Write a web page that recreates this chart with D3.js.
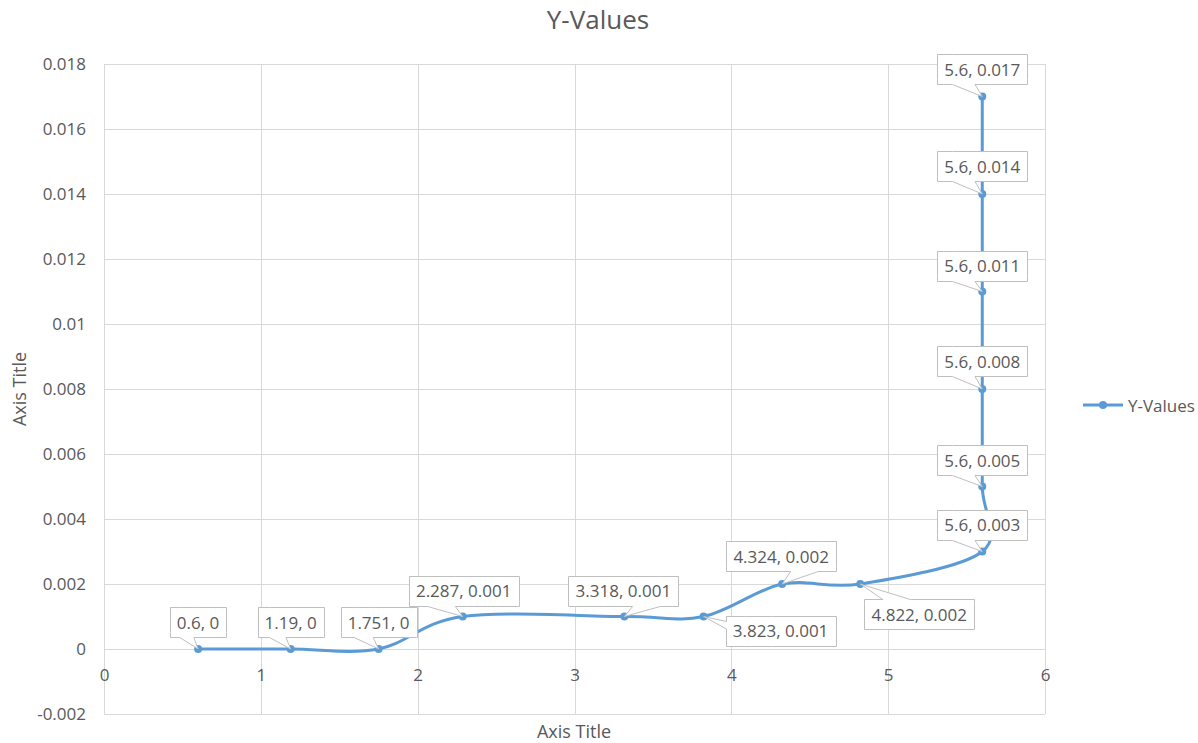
<!DOCTYPE html>
<html>
<head>
<meta charset="utf-8">
<script src="https://cdn.jsdelivr.net/npm/d3@7"></script>
<style>
  body { margin: 0; background: #fff; }
  text { font-family: "Open Sans", sans-serif; fill: #595959; }
</style>
</head>
<body>
<svg id="chart" width="1198" height="743"></svg>
<script>
// Series values
const xValues = [0.6, 1.19, 1.751, 2.287, 3.318, 3.823, 4.324, 4.822, 5.6, 5.6, 5.6, 5.6, 5.6, 5.6];
const yValues = [0, 0, 0, 0.001, 0.001, 0.001, 0.002, 0.002, 0.003, 0.005, 0.008, 0.011, 0.014, 0.017];

// Axis ticks
const xTicks = [0, 1, 2, 3, 4, 5, 6];
const xTickLabels = ["0", "1", "2", "3", "4", "5", "6"];
const yTicks = [-0.002, 0, 0.002, 0.004, 0.006, 0.008, 0.01, 0.012, 0.014, 0.016, 0.018];
const yTickLabels = ["-0.002", "0", "0.002", "0.004", "0.006", "0.008", "0.01", "0.012", "0.014", "0.016", "0.018"];

// Texts
const chartTitle = "Y-Values";
const seriesName = "Y-Values";
const xAxisTitle = "Axis Title";
const yAxisTitle = "Axis Title";

// Callout placement: centre of each label box relative to its point (px)
const calloutOffsets = [[0, -27], [0, -27], [0, -27], [1, -26], [-1, -26], [77, 14], [-1, -28],
                        [59, 30], [0, -27], [0, -26], [0, -28], [0, -26], [0, -28], [0, -27]];

const color = "#5b9bd5";
const gridColor = "#d9d9d9";

const svg = d3.select("#chart");
const plot = { left: 104, right: 1045, top: 64, bottom: 714 };

const x = d3.scaleLinear().domain([0, 6]).range([plot.left, plot.right]);
const y = d3.scaleLinear().domain([-0.002, 0.018]).range([plot.bottom, plot.top]);

// Gridlines
const grid = svg.append("g");
grid.selectAll("line.h").data(yTicks).join("line")
  .attr("x1", plot.left).attr("x2", plot.right)
  .attr("y1", d => Math.round(y(d)) + 0.5).attr("y2", d => Math.round(y(d)) + 0.5)
  .attr("stroke", gridColor).attr("stroke-width", 1);
grid.selectAll("line.v").data(xTicks).join("line")
  .attr("y1", plot.top).attr("y2", plot.bottom)
  .attr("x1", d => Math.round(x(d)) + 0.5).attr("x2", d => Math.round(x(d)) + 0.5)
  .attr("stroke", gridColor).attr("stroke-width", 1);

// Axes (labels only)
const xAxis = d3.axisBottom(x).tickValues(xTicks).tickSize(0).tickPadding(20)
  .tickFormat((d, i) => xTickLabels[i]);
svg.append("g").attr("transform", `translate(0,${y(0)})`).call(xAxis)
  .call(g => g.select(".domain").remove())
  .call(g => g.selectAll("text").style("font-family", '"Open Sans", sans-serif')
    .style("font-size", "17px").attr("fill", "#595959"));

const yAxis = d3.axisLeft(y).tickValues(yTicks).tickSize(0).tickPadding(18)
  .tickFormat((d, i) => yTickLabels[i]);
svg.append("g").attr("transform", `translate(${plot.left},0)`).call(yAxis)
  .call(g => g.select(".domain").remove())
  .call(g => g.selectAll("text").style("font-family", '"Open Sans", sans-serif')
    .style("font-size", "17px").attr("fill", "#595959"));

// Titles
svg.append("text").attr("x", 598).attr("y", 29).attr("text-anchor", "middle")
  .style("font-size", "26px").text(chartTitle);
svg.append("text").attr("x", 574).attr("y", 738).attr("text-anchor", "middle")
  .style("font-size", "18px").text(xAxisTitle);
svg.append("text").attr("transform", "translate(26,389) rotate(-90)").attr("text-anchor", "middle")
  .style("font-size", "18px").text(yAxisTitle);

// Series line (smoothed)
const pts = xValues.map((v, i) => [x(v), y(yValues[i])]);
const line = d3.line().curve(d3.curveCardinal.tension(0));
svg.append("path").attr("d", line(pts)).attr("fill", "none")
  .attr("stroke", color).attr("stroke-width", 3).attr("stroke-linejoin", "round");

svg.append("g").selectAll("circle").data(pts).join("circle")
  .attr("cx", d => d[0]).attr("cy", d => d[1]).attr("r", 4).attr("fill", color);

// Rectangular callout with a wedge pointing at (tx, ty)
function calloutPath(l, t, w, h, tx, ty) {
  const r = l + w, b = t + h, hc = l + w / 2, vc = t + h / 2;
  const dxPos = tx - hc, dyPos = ty - vc;
  const dz = Math.abs(dyPos) - Math.abs(dxPos * h / w);
  const x1 = l + w * (dxPos > 0 ? 7 : 2) / 12, x2 = l + w * (dxPos > 0 ? 10 : 5) / 12;
  const y1 = t + h * (dyPos > 0 ? 7 : 2) / 12, y2 = t + h * (dyPos > 0 ? 10 : 5) / 12;
  const xl = dz > 0 ? l : (dxPos > 0 ? l : tx);
  const yl = dz > 0 ? y1 : (dxPos > 0 ? y1 : ty);
  const xt = dz > 0 ? (dyPos > 0 ? x1 : tx) : x1;
  const yt = dz > 0 ? (dyPos > 0 ? t : ty) : t;
  const xr = dz > 0 ? r : (dxPos > 0 ? tx : r);
  const yr = dz > 0 ? y1 : (dxPos > 0 ? ty : y1);
  const xb = dz > 0 ? (dyPos > 0 ? tx : x1) : x1;
  const yb = dz > 0 ? (dyPos > 0 ? ty : b) : b;
  return `M${l},${t}L${x1},${t}L${xt},${yt}L${x2},${t}L${r},${t}L${r},${y1}L${xr},${yr}L${r},${y2}` +
         `L${r},${b}L${x2},${b}L${xb},${yb}L${x1},${b}L${l},${b}L${l},${y2}L${xl},${yl}L${l},${y1}Z`;
}

// Data labels
const labels = svg.append("g");
pts.forEach((p, i) => {
  const g = labels.append("g");
  const cx = p[0] + calloutOffsets[i][0], cy = p[1] + calloutOffsets[i][1];
  const path = g.append("path");
  const txt = g.append("text").attr("x", cx).attr("y", cy).attr("text-anchor", "middle")
    .attr("dominant-baseline", "central").style("font-size", "17px")
    .text(`${xValues[i]}, ${yValues[i]}`);
  const w = Math.round(txt.node().getComputedTextLength() + 14), h = 30;
  const l = Math.round(cx - w / 2) + 0.5, t = Math.round(cy - h / 2) + 0.5;
  path.attr("d", calloutPath(l, t, w, h, p[0], p[1]))
    .attr("fill", "#fff").attr("stroke", "#bfbfbf").attr("stroke-width", 1);
});

// Legend
const lg = svg.append("g").attr("transform", "translate(1083,405)");
lg.append("line").attr("x1", 0).attr("x2", 40).attr("stroke", color).attr("stroke-width", 3);
lg.append("circle").attr("cx", 20).attr("r", 4).attr("fill", color);
lg.append("text").attr("x", 45).attr("dominant-baseline", "central").style("font-size", "17px").text(seriesName);
</script>
</body>
</html>
